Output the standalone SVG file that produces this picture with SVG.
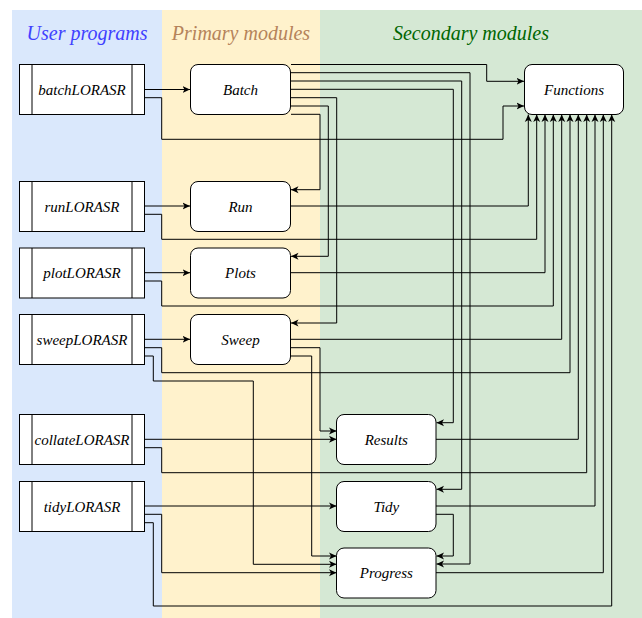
<svg xmlns="http://www.w3.org/2000/svg" width="642" height="618" viewBox="0 0 642 618">
<defs>
<marker id="arr" viewBox="0 0 8 8" refX="7.5" refY="4" markerWidth="8" markerHeight="8" markerUnits="userSpaceOnUse" orient="auto">
<path d="M0,0.5 L7.5,4 L0,7.5 L2,4 Z" fill="#000"/>
</marker>
</defs>
<style>
text{font-family:'Liberation Serif','DejaVu Serif',serif;font-style:italic}
.lbl{font-size:15px;fill:#000;text-anchor:middle}
.hdr{font-size:20px;text-anchor:middle}
.box{fill:#fff;stroke:#000;stroke-width:1}
.proc{fill:#fff;stroke:#000;stroke-width:1}
.conn path{fill:none;stroke:#000;stroke-width:1;marker-end:url(#arr)}
</style>
<g id="lanes">
<rect x="12" y="10" width="150" height="608" fill="#DAE8FC"/>
<rect x="162" y="10" width="158" height="608" fill="#FFF2CC"/>
<rect x="320" y="10" width="322" height="608" fill="#D5E8D4"/>
<text class="hdr" x="87" y="40" fill="#4040FF" font-family="Liberation Serif, serif">User programs</text>
<text class="hdr" x="241" y="40" fill="#B5835A" font-family="Liberation Serif, serif">Primary modules</text>
<text class="hdr" x="471" y="40" fill="#006600" font-family="Liberation Serif, serif">Secondary modules</text>
</g>
<g id="batchLORASR"><rect class="proc" x="19.5" y="64.5" width="125" height="50"/><path d="M32,64.5V114.5M132,64.5V114.5" stroke="#000"/><text class="lbl" x="82" y="94.5">batchLORASR</text></g>
<g id="runLORASR"><rect class="proc" x="19.5" y="181.5" width="125" height="50"/><path d="M32,181.5V231.5M132,181.5V231.5" stroke="#000"/><text class="lbl" x="82" y="211.5">runLORASR</text></g>
<g id="plotLORASR"><rect class="proc" x="19.5" y="248" width="125" height="50"/><path d="M32,248V298M132,248V298" stroke="#000"/><text class="lbl" x="82" y="278">plotLORASR</text></g>
<g id="sweepLORASR"><rect class="proc" x="19.5" y="314.5" width="125" height="50"/><path d="M32,314.5V364.5M132,314.5V364.5" stroke="#000"/><text class="lbl" x="82" y="344.5">sweepLORASR</text></g>
<g id="collateLORASR"><rect class="proc" x="19.5" y="414.5" width="125" height="50"/><path d="M32,414.5V464.5M132,414.5V464.5" stroke="#000"/><text class="lbl" x="82" y="444.5">collateLORASR</text></g>
<g id="tidyLORASR"><rect class="proc" x="19.5" y="481.5" width="125" height="50"/><path d="M32,481.5V531.5M132,481.5V531.5" stroke="#000"/><text class="lbl" x="82" y="511.5">tidyLORASR</text></g>
<g id="Batch"><rect class="box" x="190.5" y="64.5" width="100" height="50" rx="7.5"/><text class="lbl" x="240.5" y="94.5">Batch</text></g>
<g id="Run"><rect class="box" x="190.5" y="181.5" width="100" height="50" rx="7.5"/><text class="lbl" x="240.5" y="211.5">Run</text></g>
<g id="Plots"><rect class="box" x="190.5" y="248" width="100" height="50" rx="7.5"/><text class="lbl" x="240.5" y="278">Plots</text></g>
<g id="Sweep"><rect class="box" x="190.5" y="314.5" width="100" height="50" rx="7.5"/><text class="lbl" x="240.5" y="344.5">Sweep</text></g>
<g id="Functions"><rect class="box" x="524.5" y="64.5" width="99" height="50" rx="7.5"/><text class="lbl" x="574" y="94.5">Functions</text></g>
<g id="Results"><rect class="box" x="336.5" y="414.5" width="99.5" height="50" rx="7.5"/><text class="lbl" x="386.3" y="444.5">Results</text></g>
<g id="Tidy"><rect class="box" x="336.5" y="481.5" width="99.5" height="50" rx="7.5"/><text class="lbl" x="386.3" y="511.5">Tidy</text></g>
<g id="Progress"><rect class="box" x="336.5" y="548" width="99.5" height="50" rx="7.5"/><text class="lbl" x="386.3" y="578">Progress</text></g>
<g id="connectors" class="conn">
<path d="M145,89.5H190"/>
<path d="M145,97.7H161.7V139.3H503V106H524"/>
<path d="M291,64.5H486.7V81.3H524"/>
<path d="M291,72.7H470V564H436.5"/>
<path d="M291,81H461.7V489.3H436.5"/>
<path d="M291,89.3H453.3V422.7H436.5"/>
<path d="M291,97.7H336.7V323H291"/>
<path d="M291,106H328.3V256.3H291"/>
<path d="M291,114.3H320V189.7H291"/>
<path d="M145,206H190"/>
<path d="M145,214.3H161.7V239.3H536.7V114.5"/>
<path d="M291,206H528.3V114.5"/>
<path d="M145,272.7H190"/>
<path d="M145,281H161.7V306H553.3V114.5"/>
<path d="M291,272.7H545V114.5"/>
<path d="M145,339.3H190"/>
<path d="M145,347.7H161.7V372.7H570V114.5"/>
<path d="M145,356H153.3V381H253.3V564.3H336.5"/>
<path d="M291,339.3H561.7V114.5"/>
<path d="M291,347.7H320V431H336.5"/>
<path d="M291,356H311.7V556H336.5"/>
<path d="M145,439.3H336.5"/>
<path d="M145,447.7H161.7V472.7H586.7V114.5"/>
<path d="M436,439.3H578.3V114.5"/>
<path d="M145,506H336.5"/>
<path d="M145,514.3H161.7V572.7H336.5"/>
<path d="M145,522.7H153.3V606H611.7V114.5"/>
<path d="M436,506H595V114.5"/>
<path d="M436,514.3H453.3V556H436.5"/>
<path d="M436,572.7H603.3V114.5"/>
</g>
</svg>
